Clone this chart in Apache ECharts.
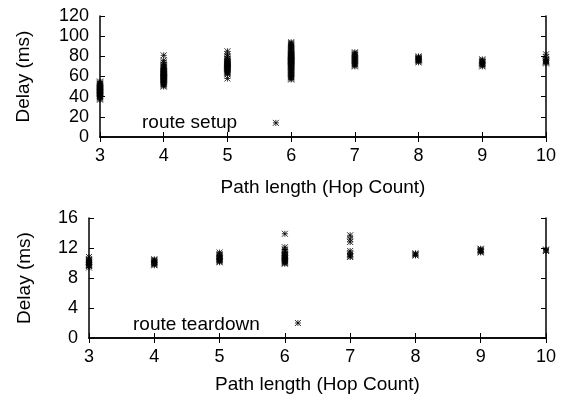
<!DOCTYPE html>
<html>
<head>
<meta charset="utf-8">
<script src="https://cdn.jsdelivr.net/npm/echarts@6/dist/echarts.min.js"></script>
<style>
    html, body { margin: 0; padding: 0; background: #fff; }
    #chart { width: 565px; height: 399px; }
</style>
</head>
<body>
<div id="chart"></div>
<script>
// hop counts on x
var hops = [3, 4, 5, 6, 7, 8, 9, 10];

// route setup delay (ms), one list per hop count
var setup3 = [37, 38, 39, 40, 41, 41, 42, 43, 43, 44, 44, 45, 45, 46, 46, 47, 47, 48, 48, 49, 50, 50, 51, 52, 53, 54, 55];
var setup4 = [50, 51, 52, 53, 54, 55, 55, 56, 57, 57, 58, 58, 59, 59, 60, 60, 61, 61, 62, 62, 63, 63, 64, 64, 65, 65, 66, 67, 68, 69, 70, 71, 72, 74, 76, 81];
var setup5 = [58, 62, 63, 64, 65, 66, 67, 67, 68, 68, 69, 69, 70, 70, 71, 71, 72, 72, 73, 73, 74, 74, 75, 76, 77, 78, 80, 82, 85];
var setup6 = [57, 58, 59, 60, 61, 62, 63, 64, 65, 66, 67, 68, 69, 70, 70, 71, 72, 72, 73, 74, 74, 75, 75, 76, 76, 77, 77, 78, 78, 79, 79, 80, 80, 81, 81, 82, 82, 83, 84, 85, 86, 87, 88, 89, 90, 91, 92, 93, 94];
var setup7 = [70, 71, 72, 73, 74, 75, 76, 77, 78, 79, 80, 81, 82, 83, 84];
var setup8 = [74, 75, 76, 76, 77, 77, 78, 78, 79, 80];
var setup9 = [70, 71, 72, 73, 74, 74, 75, 76, 77];
var setup10 = [73, 74, 75, 75, 76, 77, 79, 82];
var setupOutlier = [5.76, 14];

// route teardown delay (ms)
var tear3 = [9.4, 9.6, 9.7, 9.8, 9.9, 10.0, 10.1, 10.2, 10.3, 10.4, 10.5, 10.8];
var tear4 = [9.7, 9.8, 9.9, 10.0, 10.1, 10.2, 10.3, 10.4, 10.5];
var tear5 = [10.1, 10.2, 10.3, 10.4, 10.5, 10.6, 10.7, 10.8, 10.9, 11.0, 11.2, 11.4];
var tear6 = [9.9, 10.0, 10.1, 10.2, 10.3, 10.4, 10.5, 10.6, 10.7, 10.8, 10.9, 11.0, 11.1, 11.2, 11.4, 11.6, 11.8, 12.1, 13.9];
var tear7 = [10.8, 10.9, 11.1, 11.3, 11.6, 12.8, 13.2, 13.7];
var tear8 = [11.0, 11.1, 11.2, 11.3];
var tear9 = [11.4, 11.5, 11.6, 11.7, 11.8, 11.9];
var tear10 = [11.6, 11.7, 11.8];
var tearOutlier = [6.2, 2.0];

var setupTicks = [0, 20, 40, 60, 80, 100, 120];
var tearTicks = [0, 4, 8, 12, 16];

function toPoints(aaList, oOutlier) {
    var aoPts = [];
    for (var i = 0; i < hops.length; i++) {
        for (var j = 0; j < aaList[i].length; j++) {
            aoPts.push([hops[i], aaList[i][j]]);
        }
    }
    aoPts.push(oOutlier);
    return aoPts;
}

var setupData = toPoints([setup3, setup4, setup5, setup6, setup7, setup8, setup9, setup10], setupOutlier);
var tearData = toPoints([tear3, tear4, tear5, tear6, tear7, tear8, tear9, tear10], tearOutlier);

var cFont = '"Liberation Sans", Arial, sans-serif';
var nFont = 18;
var nNameFont = 19;
var oLine = { lineStyle: { color: '#000', width: 1.5 } };
var oTick = { show: true, inside: true, length: 5, lineStyle: { color: '#000', width: 1 } };
var cStar = 'path://M0,0L10,10M10,0L0,10M5,0L5,10M0,5L10,5';

function xAxis(iGrid, nGap) {
    return {
        type: 'value', gridIndex: iGrid, min: 3, max: 10, interval: 1,
        name: 'Path length (Hop Count)', nameLocation: 'middle', nameGap: nGap,
        nameTextStyle: { fontFamily: cFont, fontSize: nNameFont, color: '#000' },
        axisLine: oLine, axisTick: oTick,
        axisLabel: { margin: 10, fontFamily: cFont, fontSize: nFont, color: '#000' },
        splitLine: { show: false }
    };
}
function xMirror(iGrid) {
    return {
        type: 'value', gridIndex: iGrid, min: 3, max: 10, interval: 1, position: 'top',
        axisLine: oLine, axisTick: oTick, axisLabel: { show: false }, splitLine: { show: false }
    };
}
function yAxis(iGrid, nMax, nStep, nGap) {
    return {
        type: 'value', gridIndex: iGrid, min: 0, max: nMax, interval: nStep,
        name: 'Delay (ms)', nameLocation: 'middle', nameGap: nGap,
        nameTextStyle: { fontFamily: cFont, fontSize: nNameFont, color: '#000' },
        axisLine: oLine, axisTick: oTick,
        axisLabel: { margin: 11, fontFamily: cFont, fontSize: nFont, color: '#000' },
        splitLine: { show: false }
    };
}
function yMirror(iGrid, nMax, nStep) {
    return {
        type: 'value', gridIndex: iGrid, min: 0, max: nMax, interval: nStep, position: 'right',
        axisLine: oLine, axisTick: oTick, axisLabel: { show: false }, splitLine: { show: false }
    };
}

var oOption = {
    backgroundColor: '#fff',
    animation: false,
    grid: [
        { left: 100, right: 19, top: 16, height: 121 },
        { left: 89, right: 19, top: 218, height: 120 }
    ],
    xAxis: [xAxis(0, 41), xMirror(0), xAxis(1, 37), xMirror(1)],
    yAxis: [
        yAxis(0, setupTicks[setupTicks.length - 1], setupTicks[1], 67),
        yMirror(0, 120, 20),
        yAxis(1, tearTicks[tearTicks.length - 1], tearTicks[1], 55),
        yMirror(1, 16, 4)
    ],
    graphic: [
        { type: 'text', left: 142, top: 113, style: { text: 'route setup', font: nNameFont + 'px ' + cFont, fill: '#000' } },
        { type: 'text', left: 133, top: 315, style: { text: 'route teardown', font: nNameFont + 'px ' + cFont, fill: '#000' } }
    ],
    series: [
        {
            name: 'route setup', type: 'scatter', xAxisIndex: 0, yAxisIndex: 0,
            symbol: cStar, symbolSize: 6, clip: false,
            itemStyle: { color: 'none', borderColor: '#000', borderWidth: 1 },
            data: setupData
        },
        {
            name: 'route teardown', type: 'scatter', xAxisIndex: 2, yAxisIndex: 2,
            symbol: cStar, symbolSize: 6, clip: false,
            itemStyle: { color: 'none', borderColor: '#000', borderWidth: 1 },
            data: tearData
        }
    ]
};

var oChart = echarts.init(document.getElementById('chart'));
oChart.setOption(oOption, true);
</script>
</body>
</html>
